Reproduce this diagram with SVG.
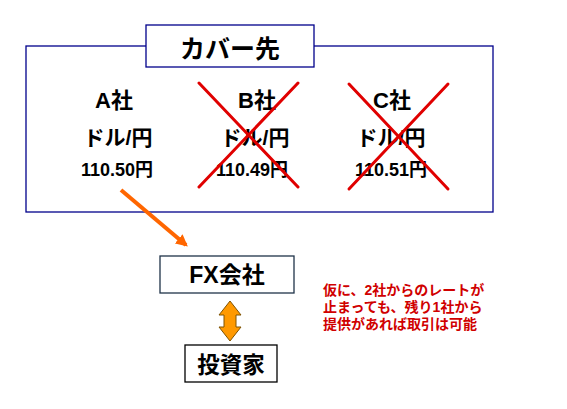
<svg xmlns="http://www.w3.org/2000/svg" width="567" height="409" viewBox="0 0 567 409">
<style>
.t{font-family:"Liberation Sans","Noto Sans CJK JP",sans-serif;font-weight:bold;fill:#000;text-anchor:middle}
.x{stroke:#e00000;stroke-width:3;stroke-linecap:round}
.note{font-family:"Liberation Sans","Noto Sans CJK JP",sans-serif;font-weight:bold;fill:#d00000;font-size:14px}
</style>
<defs>
<marker id="ah" viewBox="0 0 10 10" refX="8" refY="5" markerWidth="3" markerHeight="3" orient="auto" markerUnits="strokeWidth">
<path d="M0,0 L10,5 L0,10 z" fill="#ff6600"/>
</marker>
</defs>
<rect width="567" height="409" fill="#fff"/>
<g id="cover">
<rect x="26" y="46" width="467" height="166" fill="#fff" stroke="#00008b" stroke-width="1.3"/>
<rect x="146" y="25" width="168" height="42" fill="#fff" stroke="#00008b" stroke-width="1.3"/>
<text class="t" x="230" y="58" font-size="25">カバー先</text>
</g>
<g id="a">
<text class="t" x="114" y="108" font-size="22">A社</text>
<text class="t" x="118" y="145" font-size="21">ドル/円</text>
<text class="t" x="117" y="176" font-size="18">110.50円</text>
</g>
<g id="b">
<text class="t" x="257" y="108" font-size="22">B社</text>
<text class="t" x="255" y="145" font-size="21">ドル/円</text>
<text class="t" x="252" y="176" font-size="18">110.49円</text>
<line class="x" x1="199" y1="83" x2="298" y2="187"/>
<line class="x" x1="298" y1="83" x2="199" y2="187"/>
</g>
<g id="c">
<text class="t" x="392" y="108" font-size="22">C社</text>
<text class="t" x="391" y="145" font-size="21">ドル/円</text>
<text class="t" x="391" y="176" font-size="18">110.51円</text>
<line class="x" x1="349" y1="84" x2="448" y2="189"/>
<line class="x" x1="448" y1="84" x2="349" y2="189"/>
</g>
<g id="connectors">
<line x1="121" y1="190" x2="186" y2="245" stroke="#ff6600" stroke-width="4" marker-end="url(#ah)"/>
<path d="M230,301 L241,315 L236,315 L236,327 L241,327 L230,341 L219,327 L224,327 L224,315 L219,315 Z" fill="#ff9900" stroke="#7f5200" stroke-width="1"/>
</g>
<g id="fx">
<rect x="160" y="256" width="134" height="37" fill="#fff" stroke="#1f3349" stroke-width="1.3"/>
<text class="t" x="227" y="283" font-size="23">FX会社</text>
</g>
<g id="investor">
<rect x="185" y="345" width="92" height="37" fill="#fff" stroke="#000" stroke-width="1.3"/>
<text class="t" x="231" y="373" font-size="22.5">投資家</text>
</g>
<g id="note">
<text class="note" x="323" y="295">仮に、2社からのレートが</text>
<text class="note" x="323" y="312">止まっても、残り1社から</text>
<text class="note" x="323" y="329">提供があれば取引は可能</text>
</g>
</svg>
